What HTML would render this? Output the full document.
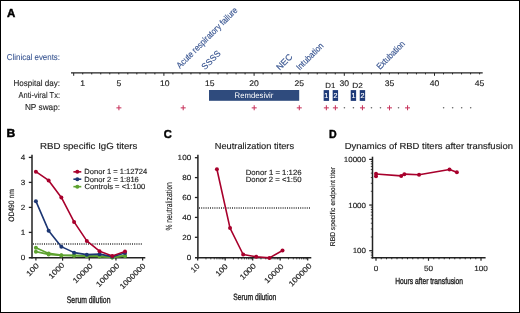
<!DOCTYPE html>
<html><head><meta charset="utf-8"><style>
html,body{margin:0;padding:0;background:#fff;}
body{width:520px;height:313px;overflow:hidden;}
svg{display:block;font-family:"Liberation Sans", sans-serif;will-change:transform;text-rendering:geometricPrecision;}
</style></head><body>
<svg width="520" height="313" viewBox="0 0 520 313">
<rect x="0" y="0" width="520" height="313" fill="#fff"/>
<rect x="0.5" y="0.5" width="519" height="312" fill="none" stroke="#000" stroke-width="1"/>
<text x="7.11" y="17.20" font-size="11.6" fill="#000" stroke="#000" stroke-width="0.45" font-weight="bold" textLength="8.29" lengthAdjust="spacingAndGlyphs">A</text>
<text x="6.80" y="60.10" font-size="8.6" fill="#3a5692" stroke="#3a5692" stroke-width="0.1" font-weight="normal" textLength="53.22" lengthAdjust="spacingAndGlyphs">Clinical events:</text>
<text x="13.44" y="86.30" font-size="8.6" fill="#222" stroke="#222" stroke-width="0.1" font-weight="normal" textLength="46.60" lengthAdjust="spacingAndGlyphs">Hospital day:</text>
<text x="18.59" y="98.00" font-size="8.6" fill="#222" stroke="#222" stroke-width="0.1" font-weight="normal" textLength="41.39" lengthAdjust="spacingAndGlyphs">Anti-viral Tx:</text>
<text x="24.93" y="110.20" font-size="8.6" fill="#222" stroke="#222" stroke-width="0.1" font-weight="normal" textLength="35.12" lengthAdjust="spacingAndGlyphs">NP swap:</text>
<line x1="71.00" y1="72.90" x2="482.70" y2="72.90" stroke="#222" stroke-width="1.2" />
<line x1="73.70" y1="72.90" x2="73.70" y2="75.80" stroke="#222" stroke-width="1.0" />
<line x1="82.72" y1="72.90" x2="82.72" y2="74.40" stroke="#222" stroke-width="1.0" />
<line x1="91.74" y1="72.90" x2="91.74" y2="74.40" stroke="#222" stroke-width="1.0" />
<line x1="100.76" y1="72.90" x2="100.76" y2="74.40" stroke="#222" stroke-width="1.0" />
<line x1="109.78" y1="72.90" x2="109.78" y2="74.40" stroke="#222" stroke-width="1.0" />
<line x1="118.80" y1="72.90" x2="118.80" y2="74.40" stroke="#222" stroke-width="1.0" />
<line x1="127.82" y1="72.90" x2="127.82" y2="74.40" stroke="#222" stroke-width="1.0" />
<line x1="136.84" y1="72.90" x2="136.84" y2="74.40" stroke="#222" stroke-width="1.0" />
<line x1="145.86" y1="72.90" x2="145.86" y2="74.40" stroke="#222" stroke-width="1.0" />
<line x1="154.88" y1="72.90" x2="154.88" y2="74.40" stroke="#222" stroke-width="1.0" />
<line x1="163.90" y1="72.90" x2="163.90" y2="75.80" stroke="#222" stroke-width="1.0" />
<line x1="172.92" y1="72.90" x2="172.92" y2="74.40" stroke="#222" stroke-width="1.0" />
<line x1="181.94" y1="72.90" x2="181.94" y2="74.40" stroke="#222" stroke-width="1.0" />
<line x1="190.96" y1="72.90" x2="190.96" y2="74.40" stroke="#222" stroke-width="1.0" />
<line x1="199.98" y1="72.90" x2="199.98" y2="74.40" stroke="#222" stroke-width="1.0" />
<line x1="209.00" y1="72.90" x2="209.00" y2="74.40" stroke="#222" stroke-width="1.0" />
<line x1="218.02" y1="72.90" x2="218.02" y2="74.40" stroke="#222" stroke-width="1.0" />
<line x1="227.04" y1="72.90" x2="227.04" y2="74.40" stroke="#222" stroke-width="1.0" />
<line x1="236.06" y1="72.90" x2="236.06" y2="74.40" stroke="#222" stroke-width="1.0" />
<line x1="245.08" y1="72.90" x2="245.08" y2="74.40" stroke="#222" stroke-width="1.0" />
<line x1="254.10" y1="72.90" x2="254.10" y2="75.80" stroke="#222" stroke-width="1.0" />
<line x1="263.12" y1="72.90" x2="263.12" y2="74.40" stroke="#222" stroke-width="1.0" />
<line x1="272.14" y1="72.90" x2="272.14" y2="74.40" stroke="#222" stroke-width="1.0" />
<line x1="281.16" y1="72.90" x2="281.16" y2="74.40" stroke="#222" stroke-width="1.0" />
<line x1="290.18" y1="72.90" x2="290.18" y2="74.40" stroke="#222" stroke-width="1.0" />
<line x1="299.20" y1="72.90" x2="299.20" y2="74.40" stroke="#222" stroke-width="1.0" />
<line x1="308.22" y1="72.90" x2="308.22" y2="74.40" stroke="#222" stroke-width="1.0" />
<line x1="317.24" y1="72.90" x2="317.24" y2="74.40" stroke="#222" stroke-width="1.0" />
<line x1="326.26" y1="72.90" x2="326.26" y2="74.40" stroke="#222" stroke-width="1.0" />
<line x1="335.28" y1="72.90" x2="335.28" y2="74.40" stroke="#222" stroke-width="1.0" />
<line x1="344.30" y1="72.90" x2="344.30" y2="75.80" stroke="#222" stroke-width="1.0" />
<line x1="353.32" y1="72.90" x2="353.32" y2="74.40" stroke="#222" stroke-width="1.0" />
<line x1="362.34" y1="72.90" x2="362.34" y2="74.40" stroke="#222" stroke-width="1.0" />
<line x1="371.36" y1="72.90" x2="371.36" y2="74.40" stroke="#222" stroke-width="1.0" />
<line x1="380.38" y1="72.90" x2="380.38" y2="74.40" stroke="#222" stroke-width="1.0" />
<line x1="389.40" y1="72.90" x2="389.40" y2="74.40" stroke="#222" stroke-width="1.0" />
<line x1="398.42" y1="72.90" x2="398.42" y2="74.40" stroke="#222" stroke-width="1.0" />
<line x1="407.44" y1="72.90" x2="407.44" y2="74.40" stroke="#222" stroke-width="1.0" />
<line x1="416.46" y1="72.90" x2="416.46" y2="74.40" stroke="#222" stroke-width="1.0" />
<line x1="425.48" y1="72.90" x2="425.48" y2="74.40" stroke="#222" stroke-width="1.0" />
<line x1="434.50" y1="72.90" x2="434.50" y2="75.80" stroke="#222" stroke-width="1.0" />
<line x1="443.52" y1="72.90" x2="443.52" y2="74.40" stroke="#222" stroke-width="1.0" />
<line x1="452.54" y1="72.90" x2="452.54" y2="74.40" stroke="#222" stroke-width="1.0" />
<line x1="461.56" y1="72.90" x2="461.56" y2="74.40" stroke="#222" stroke-width="1.0" />
<line x1="470.58" y1="72.90" x2="470.58" y2="74.40" stroke="#222" stroke-width="1.0" />
<line x1="479.60" y1="72.90" x2="479.60" y2="74.40" stroke="#222" stroke-width="1.0" />
<text x="82.72" y="86.00" font-size="8.1" text-anchor="middle" fill="#222" stroke="#222" stroke-width="0.15" font-weight="normal" textLength="4.78" lengthAdjust="spacingAndGlyphs" >1</text>
<text x="118.80" y="86.00" font-size="8.1" text-anchor="middle" fill="#222" stroke="#222" stroke-width="0.15" font-weight="normal" textLength="4.78" lengthAdjust="spacingAndGlyphs" >5</text>
<text x="164.70" y="86.00" font-size="8.1" text-anchor="middle" fill="#222" stroke="#222" stroke-width="0.15" font-weight="normal" textLength="9.55" lengthAdjust="spacingAndGlyphs" >10</text>
<text x="209.80" y="86.00" font-size="8.1" text-anchor="middle" fill="#222" stroke="#222" stroke-width="0.15" font-weight="normal" textLength="9.55" lengthAdjust="spacingAndGlyphs" >15</text>
<text x="254.10" y="86.00" font-size="8.1" text-anchor="middle" fill="#222" stroke="#222" stroke-width="0.15" font-weight="normal" textLength="9.55" lengthAdjust="spacingAndGlyphs" >20</text>
<text x="299.20" y="86.00" font-size="8.1" text-anchor="middle" fill="#222" stroke="#222" stroke-width="0.15" font-weight="normal" textLength="9.55" lengthAdjust="spacingAndGlyphs" >25</text>
<text x="344.30" y="86.00" font-size="8.1" text-anchor="middle" fill="#222" stroke="#222" stroke-width="0.15" font-weight="normal" textLength="9.55" lengthAdjust="spacingAndGlyphs" >30</text>
<text x="389.40" y="86.00" font-size="8.1" text-anchor="middle" fill="#222" stroke="#222" stroke-width="0.15" font-weight="normal" textLength="9.55" lengthAdjust="spacingAndGlyphs" >35</text>
<text x="434.50" y="86.00" font-size="8.1" text-anchor="middle" fill="#222" stroke="#222" stroke-width="0.15" font-weight="normal" textLength="9.55" lengthAdjust="spacingAndGlyphs" >40</text>
<text x="479.60" y="86.00" font-size="8.1" text-anchor="middle" fill="#222" stroke="#222" stroke-width="0.15" font-weight="normal" textLength="9.55" lengthAdjust="spacingAndGlyphs" >45</text>
<text x="325.36" y="87.70" font-size="7.4" fill="#222" stroke="#222" stroke-width="0.15" font-weight="normal" textLength="10.03" lengthAdjust="spacingAndGlyphs">D1</text>
<text x="352.22" y="87.70" font-size="7.4" fill="#222" stroke="#222" stroke-width="0.15" font-weight="normal" textLength="10.60" lengthAdjust="spacingAndGlyphs">D2</text>
<rect x="209.00" y="90.0" width="90.20" height="10.8" fill="#2f4b7d"/>
<text x="234.56" y="98.20" font-size="8.0" fill="#fff" stroke="#fff" stroke-width="0" font-weight="normal" textLength="38.87" lengthAdjust="spacingAndGlyphs">Remdesivir</text>
<rect x="323.66" y="90.1" width="5.4" height="10.8" fill="#1e3a78"/>
<text x="326.36" y="97.80" font-size="7.2" text-anchor="middle" fill="#fff" stroke="#fff" stroke-width="0.15" font-weight="normal" >1</text>
<rect x="332.68" y="90.1" width="5.4" height="10.8" fill="#1e3a78"/>
<text x="335.38" y="97.80" font-size="7.2" text-anchor="middle" fill="#fff" stroke="#fff" stroke-width="0.15" font-weight="normal" >2</text>
<rect x="350.72" y="90.1" width="5.4" height="10.8" fill="#1e3a78"/>
<text x="353.42" y="97.80" font-size="7.2" text-anchor="middle" fill="#fff" stroke="#fff" stroke-width="0.15" font-weight="normal" >1</text>
<rect x="359.74" y="90.1" width="5.4" height="10.8" fill="#1e3a78"/>
<text x="362.44" y="97.80" font-size="7.2" text-anchor="middle" fill="#fff" stroke="#fff" stroke-width="0.15" font-weight="normal" >2</text>
<line x1="116.40" y1="107.85" x2="121.40" y2="107.85" stroke="#c8365e" stroke-width="1.05" />
<line x1="118.90" y1="105.35" x2="118.90" y2="110.35" stroke="#c8365e" stroke-width="1.05" />
<line x1="180.70" y1="107.85" x2="185.70" y2="107.85" stroke="#c8365e" stroke-width="1.05" />
<line x1="183.20" y1="105.35" x2="183.20" y2="110.35" stroke="#c8365e" stroke-width="1.05" />
<line x1="251.70" y1="107.85" x2="256.70" y2="107.85" stroke="#c8365e" stroke-width="1.05" />
<line x1="254.20" y1="105.35" x2="254.20" y2="110.35" stroke="#c8365e" stroke-width="1.05" />
<line x1="296.80" y1="107.85" x2="301.80" y2="107.85" stroke="#c8365e" stroke-width="1.05" />
<line x1="299.30" y1="105.35" x2="299.30" y2="110.35" stroke="#c8365e" stroke-width="1.05" />
<line x1="323.86" y1="107.85" x2="328.86" y2="107.85" stroke="#c8365e" stroke-width="1.05" />
<line x1="326.36" y1="105.35" x2="326.36" y2="110.35" stroke="#c8365e" stroke-width="1.05" />
<line x1="332.88" y1="107.85" x2="337.88" y2="107.85" stroke="#c8365e" stroke-width="1.05" />
<line x1="335.38" y1="105.35" x2="335.38" y2="110.35" stroke="#c8365e" stroke-width="1.05" />
<line x1="359.94" y1="107.85" x2="364.94" y2="107.85" stroke="#c8365e" stroke-width="1.05" />
<line x1="362.44" y1="105.35" x2="362.44" y2="110.35" stroke="#c8365e" stroke-width="1.05" />
<line x1="387.00" y1="107.85" x2="392.00" y2="107.85" stroke="#c8365e" stroke-width="1.05" />
<line x1="389.50" y1="105.35" x2="389.50" y2="110.35" stroke="#c8365e" stroke-width="1.05" />
<line x1="405.04" y1="107.85" x2="410.04" y2="107.85" stroke="#c8365e" stroke-width="1.05" />
<line x1="407.54" y1="105.35" x2="407.54" y2="110.35" stroke="#c8365e" stroke-width="1.05" />
<circle cx="344.40" cy="107.80" r="0.8" fill="#666"/>
<circle cx="353.42" cy="107.80" r="0.8" fill="#666"/>
<circle cx="371.46" cy="107.80" r="0.8" fill="#666"/>
<circle cx="380.48" cy="107.80" r="0.8" fill="#666"/>
<circle cx="398.52" cy="107.80" r="0.8" fill="#666"/>
<circle cx="443.62" cy="107.80" r="0.8" fill="#666"/>
<circle cx="452.64" cy="107.80" r="0.8" fill="#666"/>
<circle cx="461.66" cy="107.80" r="0.8" fill="#666"/>
<circle cx="470.68" cy="107.80" r="0.8" fill="#666"/>
<g transform="translate(180.00,69.00) rotate(-45)"><text id="ev1" x="0" y="0" font-size="8.80" text-anchor="start" fill="#3a5692" stroke="#3a5692" stroke-width="0.15" textLength="82.28" lengthAdjust="spacingAndGlyphs">Acute respiratory failure</text></g>
<g transform="translate(205.10,70.20) rotate(-45)"><text id="ev2" x="0" y="0" font-size="8.80" text-anchor="start" fill="#3a5692" stroke="#3a5692" stroke-width="0.15" textLength="22.87" lengthAdjust="spacingAndGlyphs">SSSS</text></g>
<g transform="translate(279.80,70.80) rotate(-45)"><text id="ev3" x="0" y="0" font-size="8.80" text-anchor="start" fill="#3a5692" stroke="#3a5692" stroke-width="0.15" textLength="18.80" lengthAdjust="spacingAndGlyphs">NEC</text></g>
<g transform="translate(299.70,70.80) rotate(-45)"><text id="ev4" x="0" y="0" font-size="8.80" text-anchor="start" fill="#3a5692" stroke="#3a5692" stroke-width="0.15" textLength="34.56" lengthAdjust="spacingAndGlyphs">Intubation</text></g>
<g transform="translate(379.90,70.00) rotate(-45)"><text id="ev5" x="0" y="0" font-size="8.80" text-anchor="start" fill="#3a5692" stroke="#3a5692" stroke-width="0.15" textLength="36.13" lengthAdjust="spacingAndGlyphs">Extubation</text></g>
<text x="6.59" y="137.40" font-size="11.6" fill="#000" stroke="#000" stroke-width="0.45" font-weight="bold" textLength="8.76" lengthAdjust="spacingAndGlyphs">B</text>
<text x="40.01" y="148.60" font-size="8.8" fill="#222" stroke="#222" stroke-width="0.15" font-weight="normal" textLength="97.44" lengthAdjust="spacingAndGlyphs">RBD specific IgG titers</text>
<line x1="32.00" y1="154.80" x2="32.00" y2="258.50" stroke="#222" stroke-width="1.5" />
<line x1="28.80" y1="257.80" x2="145.30" y2="257.80" stroke="#222" stroke-width="1.5" />
<line x1="28.80" y1="232.40" x2="32.00" y2="232.40" stroke="#222" stroke-width="1.3" />
<line x1="28.80" y1="207.40" x2="32.00" y2="207.40" stroke="#222" stroke-width="1.3" />
<line x1="28.80" y1="182.40" x2="32.00" y2="182.40" stroke="#222" stroke-width="1.3" />
<line x1="28.80" y1="157.40" x2="32.00" y2="157.40" stroke="#222" stroke-width="1.3" />
<text x="25.30" y="260.10" font-size="7.5" text-anchor="end" fill="#222" stroke="#222" stroke-width="0.15" font-weight="normal" textLength="4.50" lengthAdjust="spacingAndGlyphs" >0</text>
<text x="25.30" y="235.10" font-size="7.5" text-anchor="end" fill="#222" stroke="#222" stroke-width="0.15" font-weight="normal" textLength="4.50" lengthAdjust="spacingAndGlyphs" >1</text>
<text x="25.30" y="210.10" font-size="7.5" text-anchor="end" fill="#222" stroke="#222" stroke-width="0.15" font-weight="normal" textLength="4.50" lengthAdjust="spacingAndGlyphs" >2</text>
<text x="25.30" y="185.10" font-size="7.5" text-anchor="end" fill="#222" stroke="#222" stroke-width="0.15" font-weight="normal" textLength="4.50" lengthAdjust="spacingAndGlyphs" >3</text>
<text x="25.30" y="160.10" font-size="7.5" text-anchor="end" fill="#222" stroke="#222" stroke-width="0.15" font-weight="normal" textLength="4.50" lengthAdjust="spacingAndGlyphs" >4</text>
<line x1="35.90" y1="257.80" x2="35.90" y2="260.60" stroke="#222" stroke-width="1.2" />
<line x1="62.58" y1="257.80" x2="62.58" y2="260.60" stroke="#222" stroke-width="1.2" />
<line x1="89.26" y1="257.80" x2="89.26" y2="260.60" stroke="#222" stroke-width="1.2" />
<line x1="115.94" y1="257.80" x2="115.94" y2="260.60" stroke="#222" stroke-width="1.2" />
<line x1="142.62" y1="257.80" x2="142.62" y2="260.60" stroke="#222" stroke-width="1.2" />
<line x1="33.0" y1="244.0" x2="142" y2="244.0" stroke="#333" stroke-width="1.5" stroke-dasharray="1 1.2"/>
<polyline points="35.90,247.65 48.63,253.40 61.36,255.15 74.09,255.40 86.82,255.90 99.55,256.15 112.28,257.40 125.01,255.65" fill="none" stroke="#5da22f" stroke-width="1.6" stroke-linejoin="round"/>
<circle cx="35.90" cy="247.65" r="2.0" fill="#5da22f"/>
<circle cx="48.63" cy="253.40" r="2.0" fill="#5da22f"/>
<circle cx="61.36" cy="255.15" r="2.0" fill="#5da22f"/>
<circle cx="74.09" cy="255.40" r="2.0" fill="#5da22f"/>
<circle cx="86.82" cy="255.90" r="2.0" fill="#5da22f"/>
<circle cx="99.55" cy="256.15" r="2.0" fill="#5da22f"/>
<circle cx="112.28" cy="257.40" r="2.0" fill="#5da22f"/>
<circle cx="125.01" cy="255.65" r="2.0" fill="#5da22f"/>
<polyline points="35.90,251.65 48.63,254.40 61.36,255.40 74.09,255.65 86.82,256.15 99.55,256.40 112.28,257.40 125.01,255.90" fill="none" stroke="#5da22f" stroke-width="1.6" stroke-linejoin="round"/>
<circle cx="35.90" cy="251.65" r="2.0" fill="#5da22f"/>
<circle cx="48.63" cy="254.40" r="2.0" fill="#5da22f"/>
<circle cx="61.36" cy="255.40" r="2.0" fill="#5da22f"/>
<circle cx="74.09" cy="255.65" r="2.0" fill="#5da22f"/>
<circle cx="86.82" cy="256.15" r="2.0" fill="#5da22f"/>
<circle cx="99.55" cy="256.40" r="2.0" fill="#5da22f"/>
<circle cx="112.28" cy="257.40" r="2.0" fill="#5da22f"/>
<circle cx="125.01" cy="255.90" r="2.0" fill="#5da22f"/>
<polyline points="35.90,201.15 48.63,230.65 61.36,246.65 74.09,252.65 86.82,254.65 99.55,254.15 112.28,256.65 125.01,252.90" fill="none" stroke="#1c3673" stroke-width="1.6" stroke-linejoin="round"/>
<circle cx="35.90" cy="201.15" r="2.0" fill="#1c3673"/>
<circle cx="48.63" cy="230.65" r="2.0" fill="#1c3673"/>
<circle cx="61.36" cy="246.65" r="2.0" fill="#1c3673"/>
<circle cx="74.09" cy="252.65" r="2.0" fill="#1c3673"/>
<circle cx="86.82" cy="254.65" r="2.0" fill="#1c3673"/>
<circle cx="99.55" cy="254.15" r="2.0" fill="#1c3673"/>
<circle cx="112.28" cy="256.65" r="2.0" fill="#1c3673"/>
<circle cx="125.01" cy="252.90" r="2.0" fill="#1c3673"/>
<polyline points="35.90,171.65 48.63,180.40 61.36,197.40 74.09,221.90 86.82,240.90 99.55,251.15 112.28,255.90 125.01,251.40" fill="none" stroke="#a8002c" stroke-width="1.6" stroke-linejoin="round"/>
<circle cx="35.90" cy="171.65" r="2.0" fill="#a8002c"/>
<circle cx="48.63" cy="180.40" r="2.0" fill="#a8002c"/>
<circle cx="61.36" cy="197.40" r="2.0" fill="#a8002c"/>
<circle cx="74.09" cy="221.90" r="2.0" fill="#a8002c"/>
<circle cx="86.82" cy="240.90" r="2.0" fill="#a8002c"/>
<circle cx="99.55" cy="251.15" r="2.0" fill="#a8002c"/>
<circle cx="112.28" cy="255.90" r="2.0" fill="#a8002c"/>
<circle cx="125.01" cy="251.40" r="2.0" fill="#a8002c"/>
<line x1="73.40" y1="171.85" x2="81.30" y2="171.85" stroke="#a8002c" stroke-width="1.6" />
<circle cx="77.30" cy="171.85" r="2.0" fill="#a8002c"/>
<text x="84.38" y="174.10" font-size="7.5" fill="#222" stroke="#222" stroke-width="0.15" font-weight="normal" textLength="62.74" lengthAdjust="spacingAndGlyphs">Donor 1 = 1:12724</text>
<line x1="73.40" y1="179.20" x2="81.30" y2="179.20" stroke="#1c3673" stroke-width="1.6" />
<circle cx="77.30" cy="179.20" r="2.0" fill="#1c3673"/>
<text x="84.38" y="181.80" font-size="7.5" fill="#222" stroke="#222" stroke-width="0.15" font-weight="normal" textLength="54.45" lengthAdjust="spacingAndGlyphs">Donor 2 = 1:816</text>
<line x1="73.40" y1="186.65" x2="81.30" y2="186.65" stroke="#5da22f" stroke-width="1.6" />
<circle cx="77.30" cy="186.65" r="2.0" fill="#5da22f"/>
<text x="84.61" y="189.20" font-size="7.5" fill="#222" stroke="#222" stroke-width="0.15" font-weight="normal" textLength="60.58" lengthAdjust="spacingAndGlyphs">Controls = &lt;1:100</text>
<g transform="translate(29.13,276.67) rotate(-45)"><text id="b100" x="0" y="0" font-size="7.60" text-anchor="start" fill="#222" stroke="#222" stroke-width="0.15" textLength="14.80" lengthAdjust="spacingAndGlyphs">100</text></g>
<g transform="translate(51.43,279.25) rotate(-45)"><text id="b1000" x="0" y="0" font-size="7.60" text-anchor="start" fill="#222" stroke="#222" stroke-width="0.15" textLength="19.17" lengthAdjust="spacingAndGlyphs">1000</text></g>
<g transform="translate(75.72,283.84) rotate(-45)"><text id="b10000" x="0" y="0" font-size="7.60" text-anchor="start" fill="#222" stroke="#222" stroke-width="0.15" textLength="24.67" lengthAdjust="spacingAndGlyphs">10000</text></g>
<g transform="translate(99.01,287.43) rotate(-45)"><text id="b100000" x="0" y="0" font-size="7.60" text-anchor="start" fill="#222" stroke="#222" stroke-width="0.15" textLength="29.89" lengthAdjust="spacingAndGlyphs">100000</text></g>
<g transform="translate(122.70,289.62) rotate(-45)"><text id="b1000000" x="0" y="0" font-size="7.60" text-anchor="start" fill="#222" stroke="#222" stroke-width="0.15" textLength="32.98" lengthAdjust="spacingAndGlyphs">1000000</text></g>
<g transform="translate(13.80,221.80) rotate(-90)"><text id="ylabB" x="0" y="0" font-size="7.83" text-anchor="start" fill="#222" stroke="#222" stroke-width="0.15" textLength="32.63" lengthAdjust="spacingAndGlyphs">OD490 nm</text></g>
<text x="66.79" y="303.00" font-size="9.5" fill="#222" stroke="#222" stroke-width="0.35" font-weight="normal" textLength="43.65" lengthAdjust="spacingAndGlyphs">Serum dilution</text>
<text x="163.64" y="137.60" font-size="11.6" fill="#000" stroke="#000" stroke-width="0.45" font-weight="bold" textLength="8.06" lengthAdjust="spacingAndGlyphs">C</text>
<text x="214.74" y="149.20" font-size="8.8" fill="#222" stroke="#222" stroke-width="0.15" font-weight="normal" textLength="79.35" lengthAdjust="spacingAndGlyphs">Neutralization titers</text>
<line x1="197.90" y1="154.80" x2="197.90" y2="258.50" stroke="#222" stroke-width="1.5" />
<line x1="195.00" y1="257.70" x2="311.30" y2="257.70" stroke="#222" stroke-width="1.5" />
<line x1="194.90" y1="237.30" x2="197.90" y2="237.30" stroke="#222" stroke-width="1.3" />
<line x1="194.90" y1="217.40" x2="197.90" y2="217.40" stroke="#222" stroke-width="1.3" />
<line x1="194.90" y1="197.50" x2="197.90" y2="197.50" stroke="#222" stroke-width="1.3" />
<line x1="194.90" y1="177.60" x2="197.90" y2="177.60" stroke="#222" stroke-width="1.3" />
<line x1="194.90" y1="157.70" x2="197.90" y2="157.70" stroke="#222" stroke-width="1.3" />
<text x="191.20" y="259.90" font-size="7.4" text-anchor="end" fill="#222" stroke="#222" stroke-width="0.15" font-weight="normal" textLength="4.53" lengthAdjust="spacingAndGlyphs" >0</text>
<text x="191.20" y="240.00" font-size="7.4" text-anchor="end" fill="#222" stroke="#222" stroke-width="0.15" font-weight="normal" textLength="9.05" lengthAdjust="spacingAndGlyphs" >20</text>
<text x="191.20" y="220.10" font-size="7.4" text-anchor="end" fill="#222" stroke="#222" stroke-width="0.15" font-weight="normal" textLength="9.05" lengthAdjust="spacingAndGlyphs" >40</text>
<text x="191.20" y="200.20" font-size="7.4" text-anchor="end" fill="#222" stroke="#222" stroke-width="0.15" font-weight="normal" textLength="9.05" lengthAdjust="spacingAndGlyphs" >60</text>
<text x="191.20" y="180.30" font-size="7.4" text-anchor="end" fill="#222" stroke="#222" stroke-width="0.15" font-weight="normal" textLength="9.05" lengthAdjust="spacingAndGlyphs" >80</text>
<text x="191.20" y="160.40" font-size="7.4" text-anchor="end" fill="#222" stroke="#222" stroke-width="0.15" font-weight="normal" textLength="13.58" lengthAdjust="spacingAndGlyphs" >100</text>
<line x1="197.70" y1="257.70" x2="197.70" y2="260.50" stroke="#222" stroke-width="1.2" />
<line x1="205.98" y1="257.70" x2="205.98" y2="259.40" stroke="#222" stroke-width="0.8" />
<line x1="210.82" y1="257.70" x2="210.82" y2="259.40" stroke="#222" stroke-width="0.8" />
<line x1="214.26" y1="257.70" x2="214.26" y2="259.40" stroke="#222" stroke-width="0.8" />
<line x1="216.92" y1="257.70" x2="216.92" y2="259.40" stroke="#222" stroke-width="0.8" />
<line x1="219.10" y1="257.70" x2="219.10" y2="259.40" stroke="#222" stroke-width="0.8" />
<line x1="220.94" y1="257.70" x2="220.94" y2="259.40" stroke="#222" stroke-width="0.8" />
<line x1="222.53" y1="257.70" x2="222.53" y2="259.40" stroke="#222" stroke-width="0.8" />
<line x1="223.94" y1="257.70" x2="223.94" y2="259.40" stroke="#222" stroke-width="0.8" />
<line x1="225.20" y1="257.70" x2="225.20" y2="260.50" stroke="#222" stroke-width="1.2" />
<line x1="233.48" y1="257.70" x2="233.48" y2="259.40" stroke="#222" stroke-width="0.8" />
<line x1="238.32" y1="257.70" x2="238.32" y2="259.40" stroke="#222" stroke-width="0.8" />
<line x1="241.76" y1="257.70" x2="241.76" y2="259.40" stroke="#222" stroke-width="0.8" />
<line x1="244.42" y1="257.70" x2="244.42" y2="259.40" stroke="#222" stroke-width="0.8" />
<line x1="246.60" y1="257.70" x2="246.60" y2="259.40" stroke="#222" stroke-width="0.8" />
<line x1="248.44" y1="257.70" x2="248.44" y2="259.40" stroke="#222" stroke-width="0.8" />
<line x1="250.03" y1="257.70" x2="250.03" y2="259.40" stroke="#222" stroke-width="0.8" />
<line x1="251.44" y1="257.70" x2="251.44" y2="259.40" stroke="#222" stroke-width="0.8" />
<line x1="252.70" y1="257.70" x2="252.70" y2="260.50" stroke="#222" stroke-width="1.2" />
<line x1="260.98" y1="257.70" x2="260.98" y2="259.40" stroke="#222" stroke-width="0.8" />
<line x1="265.82" y1="257.70" x2="265.82" y2="259.40" stroke="#222" stroke-width="0.8" />
<line x1="269.26" y1="257.70" x2="269.26" y2="259.40" stroke="#222" stroke-width="0.8" />
<line x1="271.92" y1="257.70" x2="271.92" y2="259.40" stroke="#222" stroke-width="0.8" />
<line x1="274.10" y1="257.70" x2="274.10" y2="259.40" stroke="#222" stroke-width="0.8" />
<line x1="275.94" y1="257.70" x2="275.94" y2="259.40" stroke="#222" stroke-width="0.8" />
<line x1="277.53" y1="257.70" x2="277.53" y2="259.40" stroke="#222" stroke-width="0.8" />
<line x1="278.94" y1="257.70" x2="278.94" y2="259.40" stroke="#222" stroke-width="0.8" />
<line x1="280.20" y1="257.70" x2="280.20" y2="260.50" stroke="#222" stroke-width="1.2" />
<line x1="288.48" y1="257.70" x2="288.48" y2="259.40" stroke="#222" stroke-width="0.8" />
<line x1="293.32" y1="257.70" x2="293.32" y2="259.40" stroke="#222" stroke-width="0.8" />
<line x1="296.76" y1="257.70" x2="296.76" y2="259.40" stroke="#222" stroke-width="0.8" />
<line x1="299.42" y1="257.70" x2="299.42" y2="259.40" stroke="#222" stroke-width="0.8" />
<line x1="301.60" y1="257.70" x2="301.60" y2="259.40" stroke="#222" stroke-width="0.8" />
<line x1="303.44" y1="257.70" x2="303.44" y2="259.40" stroke="#222" stroke-width="0.8" />
<line x1="305.03" y1="257.70" x2="305.03" y2="259.40" stroke="#222" stroke-width="0.8" />
<line x1="306.44" y1="257.70" x2="306.44" y2="259.40" stroke="#222" stroke-width="0.8" />
<line x1="307.70" y1="257.70" x2="307.70" y2="260.50" stroke="#222" stroke-width="1.2" />
<line x1="199" y1="207.9" x2="311" y2="207.9" stroke="#333" stroke-width="1.5" stroke-dasharray="1 1.2"/>
<polyline points="216.92,169.24 230.04,228.05 243.16,254.51 256.28,256.80 269.41,257.90 282.53,250.53" fill="none" stroke="#a8002c" stroke-width="1.6" stroke-linejoin="round"/>
<circle cx="216.92" cy="169.24" r="2.0" fill="#a8002c"/>
<circle cx="230.04" cy="228.05" r="2.0" fill="#a8002c"/>
<circle cx="243.16" cy="254.51" r="2.0" fill="#a8002c"/>
<circle cx="256.28" cy="256.80" r="2.0" fill="#a8002c"/>
<circle cx="269.41" cy="257.90" r="2.0" fill="#a8002c"/>
<circle cx="282.53" cy="250.53" r="2.0" fill="#a8002c"/>
<text x="245.66" y="174.50" font-size="7.6" fill="#222" stroke="#222" stroke-width="0.15" font-weight="normal" textLength="55.88" lengthAdjust="spacingAndGlyphs">Donor 1 = 1:126</text>
<text x="245.67" y="182.00" font-size="7.6" fill="#222" stroke="#222" stroke-width="0.15" font-weight="normal" textLength="55.84" lengthAdjust="spacingAndGlyphs">Donor 2 = &lt;1:50</text>
<g transform="translate(193.82,272.98) rotate(-45)"><text id="c10" x="0" y="0" font-size="7.60" text-anchor="start" fill="#222" stroke="#222" stroke-width="0.15" textLength="8.88" lengthAdjust="spacingAndGlyphs">10</text></g>
<g transform="translate(218.53,276.77) rotate(-45)"><text id="c100" x="0" y="0" font-size="7.60" text-anchor="start" fill="#222" stroke="#222" stroke-width="0.15" textLength="13.95" lengthAdjust="spacingAndGlyphs">100</text></g>
<g transform="translate(242.65,280.35) rotate(-45)"><text id="c1000" x="0" y="0" font-size="7.60" text-anchor="start" fill="#222" stroke="#222" stroke-width="0.15" textLength="19.74" lengthAdjust="spacingAndGlyphs">1000</text></g>
<g transform="translate(267.36,283.74) rotate(-45)"><text id="c10000" x="0" y="0" font-size="7.60" text-anchor="start" fill="#222" stroke="#222" stroke-width="0.15" textLength="23.82" lengthAdjust="spacingAndGlyphs">10000</text></g>
<g transform="translate(291.67,286.93) rotate(-45)"><text id="c100000" x="0" y="0" font-size="7.60" text-anchor="start" fill="#222" stroke="#222" stroke-width="0.15" textLength="29.04" lengthAdjust="spacingAndGlyphs">100000</text></g>
<g transform="translate(171.90,230.60) rotate(-90)"><text id="ylabC" x="0" y="0" font-size="8.85" text-anchor="start" fill="#222" stroke="#222" stroke-width="0.15" textLength="48.34" lengthAdjust="spacingAndGlyphs">% neutralization</text></g>
<text x="233.19" y="299.60" font-size="9.2" fill="#222" stroke="#222" stroke-width="0.35" font-weight="normal" textLength="43.04" lengthAdjust="spacingAndGlyphs">Serum dilution</text>
<text x="329.09" y="137.80" font-size="11.6" fill="#000" stroke="#000" stroke-width="0.45" font-weight="bold" textLength="7.65" lengthAdjust="spacingAndGlyphs">D</text>
<text x="344.72" y="148.60" font-size="8.8" fill="#222" stroke="#222" stroke-width="0.15" font-weight="normal" textLength="168.29" lengthAdjust="spacingAndGlyphs">Dynamics of RBD titers after transfusion</text>
<line x1="372.50" y1="156.70" x2="372.50" y2="258.50" stroke="#222" stroke-width="1.5" />
<line x1="371.80" y1="257.80" x2="485.60" y2="257.80" stroke="#222" stroke-width="1.5" />
<line x1="370.80" y1="257.77" x2="372.50" y2="257.77" stroke="#222" stroke-width="0.8" />
<line x1="370.80" y1="255.12" x2="372.50" y2="255.12" stroke="#222" stroke-width="0.8" />
<line x1="370.80" y1="252.79" x2="372.50" y2="252.79" stroke="#222" stroke-width="0.8" />
<line x1="369.20" y1="250.70" x2="372.50" y2="250.70" stroke="#222" stroke-width="1.2" />
<text x="366.00" y="253.40" font-size="7.4" text-anchor="end" fill="#222" stroke="#222" stroke-width="0.15" font-weight="normal" textLength="13.33" lengthAdjust="spacingAndGlyphs" >100</text>
<line x1="369.20" y1="205.05" x2="372.50" y2="205.05" stroke="#222" stroke-width="1.2" />
<text x="366.00" y="207.75" font-size="7.4" text-anchor="end" fill="#222" stroke="#222" stroke-width="0.15" font-weight="normal" textLength="17.78" lengthAdjust="spacingAndGlyphs" >1000</text>
<line x1="370.80" y1="236.96" x2="372.50" y2="236.96" stroke="#222" stroke-width="0.8" />
<line x1="370.80" y1="228.92" x2="372.50" y2="228.92" stroke="#222" stroke-width="0.8" />
<line x1="370.80" y1="223.22" x2="372.50" y2="223.22" stroke="#222" stroke-width="0.8" />
<line x1="370.80" y1="218.79" x2="372.50" y2="218.79" stroke="#222" stroke-width="0.8" />
<line x1="370.80" y1="215.18" x2="372.50" y2="215.18" stroke="#222" stroke-width="0.8" />
<line x1="370.80" y1="212.12" x2="372.50" y2="212.12" stroke="#222" stroke-width="0.8" />
<line x1="370.80" y1="209.47" x2="372.50" y2="209.47" stroke="#222" stroke-width="0.8" />
<line x1="370.80" y1="207.14" x2="372.50" y2="207.14" stroke="#222" stroke-width="0.8" />
<line x1="369.20" y1="159.40" x2="372.50" y2="159.40" stroke="#222" stroke-width="1.2" />
<text x="366.00" y="162.10" font-size="7.4" text-anchor="end" fill="#222" stroke="#222" stroke-width="0.15" font-weight="normal" textLength="22.22" lengthAdjust="spacingAndGlyphs" >10000</text>
<line x1="370.80" y1="191.31" x2="372.50" y2="191.31" stroke="#222" stroke-width="0.8" />
<line x1="370.80" y1="183.27" x2="372.50" y2="183.27" stroke="#222" stroke-width="0.8" />
<line x1="370.80" y1="177.57" x2="372.50" y2="177.57" stroke="#222" stroke-width="0.8" />
<line x1="370.80" y1="173.14" x2="372.50" y2="173.14" stroke="#222" stroke-width="0.8" />
<line x1="370.80" y1="169.53" x2="372.50" y2="169.53" stroke="#222" stroke-width="0.8" />
<line x1="370.80" y1="166.47" x2="372.50" y2="166.47" stroke="#222" stroke-width="0.8" />
<line x1="370.80" y1="163.82" x2="372.50" y2="163.82" stroke="#222" stroke-width="0.8" />
<line x1="370.80" y1="161.49" x2="372.50" y2="161.49" stroke="#222" stroke-width="0.8" />
<line x1="376.00" y1="257.80" x2="376.00" y2="260.80" stroke="#222" stroke-width="1.2" />
<line x1="381.25" y1="257.80" x2="381.25" y2="259.30" stroke="#222" stroke-width="0.9" />
<line x1="386.50" y1="257.80" x2="386.50" y2="259.30" stroke="#222" stroke-width="0.9" />
<line x1="391.75" y1="257.80" x2="391.75" y2="259.30" stroke="#222" stroke-width="0.9" />
<line x1="397.00" y1="257.80" x2="397.00" y2="259.30" stroke="#222" stroke-width="0.9" />
<line x1="402.25" y1="257.80" x2="402.25" y2="259.30" stroke="#222" stroke-width="0.9" />
<line x1="407.50" y1="257.80" x2="407.50" y2="259.30" stroke="#222" stroke-width="0.9" />
<line x1="412.75" y1="257.80" x2="412.75" y2="259.30" stroke="#222" stroke-width="0.9" />
<line x1="418.00" y1="257.80" x2="418.00" y2="259.30" stroke="#222" stroke-width="0.9" />
<line x1="423.25" y1="257.80" x2="423.25" y2="259.30" stroke="#222" stroke-width="0.9" />
<line x1="428.50" y1="257.80" x2="428.50" y2="260.80" stroke="#222" stroke-width="1.2" />
<line x1="433.75" y1="257.80" x2="433.75" y2="259.30" stroke="#222" stroke-width="0.9" />
<line x1="439.00" y1="257.80" x2="439.00" y2="259.30" stroke="#222" stroke-width="0.9" />
<line x1="444.25" y1="257.80" x2="444.25" y2="259.30" stroke="#222" stroke-width="0.9" />
<line x1="449.50" y1="257.80" x2="449.50" y2="259.30" stroke="#222" stroke-width="0.9" />
<line x1="454.75" y1="257.80" x2="454.75" y2="259.30" stroke="#222" stroke-width="0.9" />
<line x1="460.00" y1="257.80" x2="460.00" y2="259.30" stroke="#222" stroke-width="0.9" />
<line x1="465.25" y1="257.80" x2="465.25" y2="259.30" stroke="#222" stroke-width="0.9" />
<line x1="470.50" y1="257.80" x2="470.50" y2="259.30" stroke="#222" stroke-width="0.9" />
<line x1="475.75" y1="257.80" x2="475.75" y2="259.30" stroke="#222" stroke-width="0.9" />
<line x1="481.00" y1="257.80" x2="481.00" y2="260.80" stroke="#222" stroke-width="1.2" />
<text x="376.00" y="271.20" font-size="7.6" text-anchor="middle" fill="#222" stroke="#222" stroke-width="0.15" font-weight="normal" textLength="4.56" lengthAdjust="spacingAndGlyphs" >0</text>
<text x="428.50" y="271.20" font-size="7.6" text-anchor="middle" fill="#222" stroke="#222" stroke-width="0.15" font-weight="normal" textLength="9.13" lengthAdjust="spacingAndGlyphs" >50</text>
<text x="481.00" y="271.20" font-size="7.6" text-anchor="middle" fill="#222" stroke="#222" stroke-width="0.15" font-weight="normal" textLength="13.69" lengthAdjust="spacingAndGlyphs" >100</text>
<polyline points="376.00,173.95 401.20,175.90 404.35,174.16 419.05,174.80 449.50,169.53 456.85,172.17" fill="none" stroke="#a8002c" stroke-width="1.6" stroke-linejoin="round"/>
<circle cx="376.00" cy="173.75" r="2.0" fill="#a8002c"/>
<circle cx="376.00" cy="176.36" r="2.0" fill="#a8002c"/>
<circle cx="401.20" cy="175.90" r="2.0" fill="#a8002c"/>
<circle cx="404.35" cy="174.16" r="2.0" fill="#a8002c"/>
<circle cx="419.05" cy="174.80" r="2.0" fill="#a8002c"/>
<circle cx="449.50" cy="169.53" r="2.0" fill="#a8002c"/>
<circle cx="456.85" cy="172.17" r="2.0" fill="#a8002c"/>
<text x="395.25" y="284.30" font-size="8.9" fill="#222" stroke="#222" stroke-width="0.35" font-weight="normal" textLength="67.78" lengthAdjust="spacingAndGlyphs">Hours after transfusion</text>
<g transform="translate(334.90,246.20) rotate(-90)"><text id="ylabD" x="0" y="0" font-size="6.99" text-anchor="start" fill="#222" stroke="#222" stroke-width="0.15" textLength="79.24" lengthAdjust="spacingAndGlyphs">RBD specific endpoint titer</text></g>
</svg>
</body></html>
